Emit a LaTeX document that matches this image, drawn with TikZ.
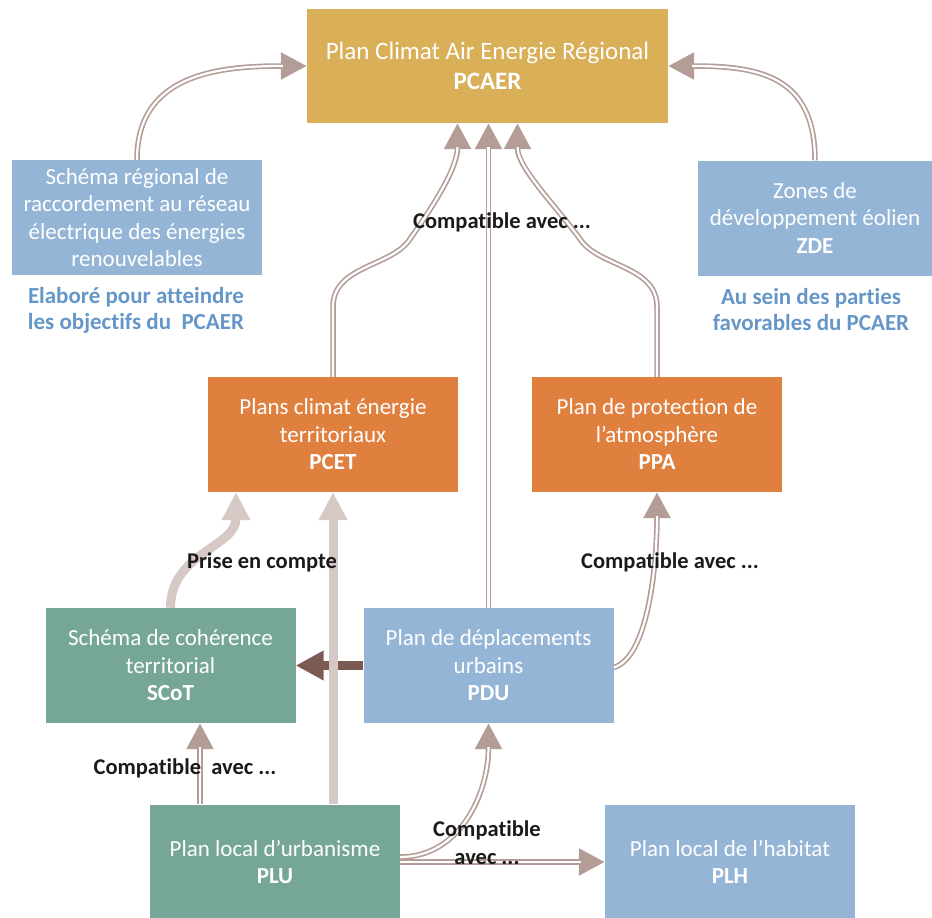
\documentclass[tikz,border=0pt]{standalone}
\usepackage{fontspec}
\setmainfont{Carlito}[Ligatures={NoCommon,NoContextual,NoRequired}]
\usetikzlibrary{arrows.meta,calc}

\definecolor{goldbox}{HTML}{D9AF58}
\definecolor{bluebox}{HTML}{94B5D5}
\definecolor{orangebox}{HTML}{E0803F}
\definecolor{greenbox}{HTML}{75A697}
\definecolor{notecol}{HTML}{6596C8}
\definecolor{arrcol}{HTML}{B39D96}
\definecolor{lightarr}{HTML}{D5C8C5}
\definecolor{darkarr}{HTML}{7B5B51}
\definecolor{labelcol}{HTML}{1A1A1A}

\begin{document}
\begin{tikzpicture}[x=1pt,y=-1pt,
  box/.style={rectangle, inner sep=0pt, text=white, align=center,
    minimum width=250pt, minimum height=115pt,
    font=\fontsize{23}{27.5}\selectfont},
  annot/.style={align=center, text=notecol, inner sep=0pt,
    font=\fontsize{23}{26}\selectfont\bfseries},
  lbl/.style={align=center, text=labelcol, inner sep=0pt,
    font=\fontsize{22.5}{28}\selectfont\bfseries},
  dbl/.style={draw=arrcol, line width=5.5pt,
    -{Triangle[width=26pt,length=26pt]},
    postaction={draw=white, line width=2.2pt, -, shorten >=24pt}},
  lightarrow/.style={draw=lightarr, line width=9pt,
    -{Triangle[width=27pt,length=28pt]}},
  darkarrow/.style={draw=darkarr, line width=9pt,
    -{Triangle[width=28pt,length=28pt]}}
]
\useasboundingbox (0,0) rectangle (932,918);

% boxes
\node[box, fill=goldbox, minimum width=361pt, minimum height=114pt,
  font=\fontsize{25}{30}\selectfont] (pcaer) at (487.5,66)
  {Plan Climat Air Energie Régional\\\textbf{PCAER}};
\node[box, fill=bluebox] (srr) at (137,217.5)
  {Schéma régional de\\raccordement au réseau\\électrique des énergies\\renouvelables};
\node[box, fill=bluebox, minimum width=234pt] (zde) at (815,218)
  {Zones de\\développement éolien\\\textbf{ZDE}};
\node[box, fill=orangebox] (pcet) at (333,434.5)
  {Plans climat énergie\\territoriaux\\\textbf{PCET}};
\node[box, fill=orangebox] (ppa) at (657,434.5)
  {Plan de protection de\\l’atmosphère\\\textbf{PPA}};
\node[box, fill=greenbox] (scot) at (170.5,665.5)
  {Schéma de cohérence\\territorial\\\textbf{SCoT}};
\node[box, fill=bluebox] (pdu) at (488.5,665.5)
  {Plan de déplacements\\urbains\\\textbf{PDU}};
\node[box, fill=greenbox] (plu) at (275,862)
  {Plan local d’urbanisme\\\textbf{PLU}};
\node[box, fill=bluebox] (plh) at (730,862)
  {Plan local de l’habitat\\\textbf{PLH}};

% notes under the upper boxes
\node[annot] (srrnote) at (136,310)
  {Elaboré pour atteindre\\les objectifs du\ \ PCAER};
\node[annot] (zdenote) at (811,310)
  {Au sein des parties\\favorables du PCAER};

% connectors
\draw[darkarrow] (pdu.west) -- (scot.east);
\draw[lightarrow] (pcet.south |- plu.north) -- (pcet.south);
\draw[lightarrow] (scot.north) .. controls +(0,-55) and +(0,55) ..
  ([xshift=-97pt]pcet.south);

\draw[dbl] (srr.north) .. controls +(0,-85) and +(-90,0) .. (pcaer.west);
\draw[dbl] (zde.north) .. controls +(0,-85) and +(90,0) .. (pcaer.east);
\draw[dbl] (pcet.north) -- ++(0,-70)
  .. controls +(0,-40) and +(-20,25) .. ++(75,-65)
  .. controls +(25,-35) and +(0,45) .. ([xshift=-30pt]pcaer.south);
\draw[dbl] (ppa.north) -- ++(0,-70)
  .. controls +(0,-40) and +(20,25) .. ++(-75,-65)
  .. controls +(-25,-35) and +(0,45) .. ([xshift=30pt]pcaer.south);
\draw[dbl] (pdu.north) -- (pdu.north |- pcaer.south);
\draw[dbl] ([xshift=-75pt]plu.north) -- ([xshift=-75pt]plu.north |- scot.south);
\draw[dbl] ([yshift=5pt]plu.east) .. controls +(60,0) and +(0,70) .. (pdu.south);
\draw[dbl] (plu.east) -- (plh.west);
\draw[dbl] ([yshift=-2pt]pdu.east) .. controls +(35,-10) and +(0,70) .. (ppa.south);

% connector labels
\node[lbl] (lbltop) at (502,222) {Compatible avec ...};
\node[lbl] (lblprise) at (262,562) {Prise en compte};
\node[lbl] (lblppa) at (670,562) {Compatible avec ...};
\node[lbl] (lblscot) at (185,768) {Compatible\ \ avec ...};
\node[lbl] (lblplh) at (487,843) {Compatible\\avec ...};
\end{tikzpicture}
\end{document}
